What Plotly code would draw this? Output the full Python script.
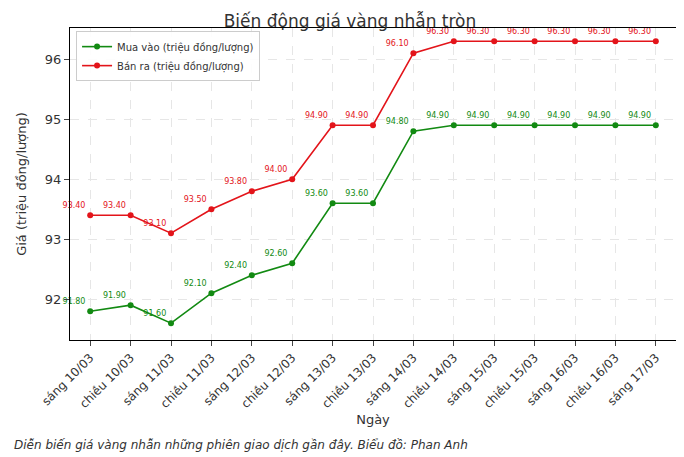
import plotly.graph_objects as go

days = ["sáng 10/03", "chiều 10/03", "sáng 11/03", "chiều 11/03", "sáng 12/03",
        "chiều 12/03", "sáng 13/03", "chiều 13/03", "sáng 14/03", "chiều 14/03",
        "sáng 15/03", "chiều 15/03", "sáng 16/03", "chiều 16/03", "sáng 17/03"]
buy = [91.8, 91.9, 91.6, 92.1, 92.4, 92.6, 93.6, 93.6, 94.8, 94.9, 94.9, 94.9, 94.9, 94.9, 94.9]
sell = [93.4, 93.4, 93.1, 93.5, 93.8, 94.0, 94.9, 94.9, 96.1, 96.3, 96.3, 96.3, 96.3, 96.3, 96.3]

fig = go.Figure()
for name, vals, col in [("Mua vào (triệu đồng/lượng)", buy, "#128a12"),
                        ("Bán ra (triệu đồng/lượng)", sell, "#e3141a")]:
    fig.add_scatter(x=days, y=vals, mode="lines+markers+text", name=name,
                    line=dict(color=col, width=1.6), marker=dict(color=col, size=6),
                    text=[f"{v:.2f}" for v in vals], textposition="top left",
                    textfont=dict(color=col, size=8), cliponaxis=False)

fig.update_layout(
    width=684, height=457, plot_bgcolor="white", paper_bgcolor="white",
    font=dict(family="DejaVu Sans", color="#333"),
    margin=dict(l=62, r=16, t=20, b=125),
    title=dict(text="Biến động giá vàng nhẫn tròn", x=0.5, y=0.985, font=dict(size=17)),
    legend=dict(x=0.01, y=0.99, bordercolor="#ccc", borderwidth=1, font=dict(size=10),
                bgcolor="rgba(255,255,255,0.9)"),
    xaxis=dict(title=dict(text="Ngày", font=dict(size=13), standoff=4), tickangle=-45, showline=True,
               linecolor="black", mirror=True, showgrid=True, gridcolor="#e6e6e6", griddash="dash",
               ticks="outside", tickfont=dict(size=12), range=[-0.5, 14.5]),
    yaxis=dict(title=dict(text="Giá (triệu đồng/lượng)", font=dict(size=13)), range=[91.32, 96.52],
               dtick=1, showline=True, linecolor="black", mirror=True, showgrid=True,
               gridcolor="#e6e6e6", griddash="dash", ticks="outside", tickfont=dict(size=13),
               zeroline=False),
)
fig.add_annotation(text="<i>Diễn biến giá vàng nhẫn những phiên giao dịch gần đây. Biểu đồ: Phan Anh</i>",
                   xref="paper", yref="paper", x=-0.095, y=-0.336, xanchor="left", yanchor="middle",
                   showarrow=False, font=dict(size=12, color="#333"))
fig.write_html("out.html")
